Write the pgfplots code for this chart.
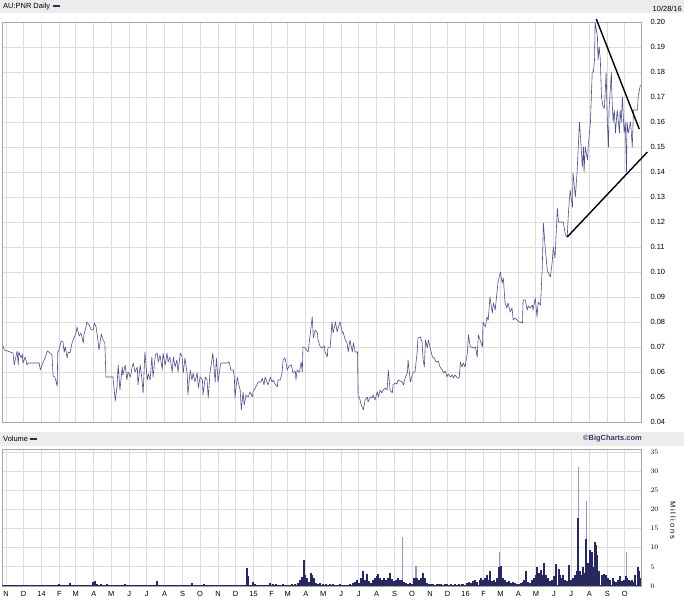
\documentclass[border=0pt]{standalone}
\usepackage{fontspec}
\setmainfont{Liberation Sans}
\usepackage{pgfplots}
\pgfplotsset{compat=1.18}
\definecolor{priceline}{RGB}{80,80,135}
\definecolor{voldark}{RGB}{40,40,95}
\definecolor{vollight}{RGB}{150,150,190}
\definecolor{gridc}{RGB}{220,220,220}
\definecolor{hdr}{RGB}{236,236,236}
\definecolor{framec}{RGB}{165,165,165}
\newcommand{\sm}{\fontsize{7.5}{8}\selectfont}
\pgfplotsset{
  chartbase/.style={
    scale only axis, width=639bp,
    xmin=-7, xmax=1093,
    xtick={0,30,61,92,120,151,181,212,242,273,304,334,365,395,426,457,485,516,546,577,607,638,669,699,730,760,791,822,851,882,912,943,973,1004,1035,1065},
    grid=major, major grid style={gridc, line width=0.8bp},
    major tick length=0pt,
    axis line style={framec, line width=0.8bp},
    yticklabel pos=right,
    tick label style={font=\sm},
    yticklabel style={xshift=6bp},
  }
}
\begin{document}
\begin{tikzpicture}
\path (0bp,0bp) rectangle (684bp,602bp);
\fill[hdr] (0bp,589bp) rectangle (684bp,602bp);
\fill[hdr] (0bp,156bp) rectangle (684bp,170bp);
\node[anchor=west,font=\sm,inner sep=0pt] at (3bp,595.5bp) {AU:PNR Daily};
\draw[voldark,line width=2bp] (53bp,595.5bp) -- (60bp,595.5bp);
\node[anchor=east,font=\sm,inner sep=0pt] at (682bp,593bp) {10/28/16};
\node[anchor=west,font=\sm,inner sep=0pt] at (3bp,163bp) {Volume};
\draw[voldark,line width=2bp] (30bp,163bp) -- (37bp,163bp);
\node[anchor=east,font=\sm\bfseries,text=voldark!80!gray,inner sep=0pt] at (642bp,163bp) {©BigCharts.com};
\node[rotate=-90,font=\sm\addfontfeature{LetterSpace=25},inner sep=0pt] at (673bp,82bp) {Millions};

\begin{axis}[chartbase, at={(2bp,180bp)}, anchor=south west, height=400bp,
  ymin=0.04, ymax=0.20, clip=false,
  xticklabels={},
  ytick={0.04,0.05,0.06,0.07,0.08,0.09,0.10,0.11,0.12,0.13,0.14,0.15,0.16,0.17,0.18,0.19,0.20},
  yticklabel style={/pgf/number format/.cd, fixed, fixed zerofill, precision=2, assume math mode=true},
]
\addplot[priceline, line width=0.6bp, line join=round] coordinates {
(-5,0.0704) (-3,0.0688) (7,0.068) (12,0.0676) (14,0.0628) (19,0.0684) (21,0.0628) (22,0.068) (26,0.0656) (28,0.0672)
(29,0.0636) (33,0.066) (36,0.0628) (38,0.0636) (57,0.0636) (59,0.0608) (64,0.064) (67,0.0656) (71,0.0684) (76,0.0676)
(79,0.0668) (81,0.0584) (84,0.058) (88,0.0544) (89,0.068) (91,0.0688) (95,0.0724) (98,0.072) (100,0.068) (102,0.07)
(105,0.0656) (107,0.068) (110,0.0676) (114,0.072) (117,0.0736) (121,0.076) (122,0.078) (126,0.0744) (129,0.0756) (133,0.0716)
(134,0.0748) (138,0.0784) (139,0.08) (143,0.0788) (146,0.0772) (150,0.0768) (152,0.0796) (155,0.078) (157,0.0748) (160,0.0688)
(164,0.0752) (167,0.0728) (170,0.0716) (172,0.058) (184,0.058) (188,0.0484) (191,0.0544) (193,0.0628) (196,0.0528) (200,0.062)
(201,0.0588) (205,0.0628) (208,0.0568) (210,0.06) (214,0.058) (217,0.062) (219,0.0636) (222,0.06) (226,0.062) (227,0.0548)
(231,0.0628) (234,0.0568) (236,0.0516) (239,0.068) (243,0.0568) (245,0.0592) (248,0.0568) (251,0.066) (253,0.058) (257,0.0668)
(260,0.0676) (262,0.064) (265,0.0668) (269,0.0608) (270,0.0676) (274,0.0628) (277,0.0676) (279,0.064) (282,0.066) (286,0.06)
(288,0.066) (291,0.062) (294,0.0648) (296,0.06) (300,0.0676) (303,0.066) (305,0.0596) (308,0.0656) (312,0.0588) (313,0.0508)
(317,0.0608) (320,0.0568) (322,0.0596) (325,0.056) (329,0.0596) (331,0.0536) (334,0.058) (338,0.0568) (339,0.0508) (343,0.058)
(346,0.0568) (348,0.0496) (351,0.0596) (355,0.066) (356,0.0676) (360,0.056) (362,0.0656) (363,0.0628) (365,0.056) (369,0.0628)
(370,0.0636) (380,0.0636) (384,0.064) (387,0.0608) (391,0.0608) (393,0.058) (394,0.0496) (398,0.058) (400,0.0556) (403,0.0528)
(405,0.0448) (408,0.052) (410,0.0468) (413,0.0508) (417,0.05) (420,0.052) (424,0.05) (425,0.052) (429,0.0536) (434,0.056)
(439,0.056) (441,0.0576) (444,0.0548) (446,0.058) (451,0.0548) (455,0.058) (458,0.056) (460,0.0568) (463,0.0552) (467,0.054)
(468,0.0568) (472,0.0568) (475,0.0596) (477,0.0648) (480,0.0656) (482,0.0636) (484,0.0608) (487,0.0624) (491,0.0628) (494,0.0596)
(498,0.0604) (499,0.0568) (501,0.0608) (505,0.06) (508,0.064) (510,0.06) (511,0.07) (515,0.0696) (517,0.0688) (520,0.068)
(523,0.074) (527,0.082) (529,0.0736) (532,0.0768) (536,0.0756) (537,0.0728) (541,0.07) (544,0.0696) (548,0.0704) (549,0.068)
(553,0.066) (554,0.0696) (558,0.07) (561,0.08) (563,0.0756) (567,0.08) (570,0.076) (572,0.078) (575,0.08) (579,0.0756)
(580,0.076) (584,0.0728) (587,0.0716) (589,0.068) (592,0.0728) (596,0.068) (598,0.0716) (601,0.068) (605,0.068) (606,0.05)
(608,0.05) (611,0.0472) (615,0.0448) (618,0.0488) (622,0.05) (623,0.048) (627,0.05) (630,0.0496) (632,0.0508) (635,0.0488)
(639,0.052) (641,0.05) (644,0.0528) (647,0.0516) (649,0.0528) (653,0.0536) (656,0.0528) (658,0.0608) (661,0.0528) (665,0.0516)
(666,0.0548) (670,0.0556) (673,0.0552) (675,0.0568) (678,0.0564) (682,0.056) (684,0.0548) (687,0.0576) (691,0.06) (692,0.0648)
(696,0.056) (699,0.0588) (701,0.06) (704,0.06) (708,0.0688) (709,0.0736) (713,0.074) (716,0.072) (718,0.0648) (720,0.062)
(722,0.0728) (725,0.0696) (727,0.0728) (730,0.0696) (734,0.066) (737,0.0656) (740,0.064) (744,0.0644) (747,0.062) (751,0.0608)
(753,0.0596) (756,0.0604) (759,0.058) (761,0.0592) (765,0.058) (768,0.0588) (770,0.0576) (773,0.0588) (777,0.0576) (780,0.0576)
(782,0.064) (785,0.062) (787,0.0636) (790,0.062) (794,0.0676) (796,0.0748) (799,0.07) (802,0.07) (804,0.0696) (808,0.07)
(811,0.066) (813,0.0748) (816,0.0728) (820,0.07) (821,0.08) (825,0.078) (828,0.082) (830,0.0808) (833,0.09) (837,0.0836)
(839,0.0876) (842,0.0848) (846,0.094) (847,0.096) (851,0.10) (854,0.0956) (856,0.0976) (859,0.0876) (862,0.0856) (864,0.0876)
(868,0.084) (871,0.0856) (873,0.0808) (876,0.0816) (880,0.0808) (882,0.08) (885,0.08) (889,0.0796) (890,0.0888) (894,0.0888)
(897,0.0848) (899,0.0864) (902,0.0856) (906,0.0868) (907,0.0848) (911,0.0896) (914,0.082) (916,0.088) (920,0.0868) (923,0.1016)
(925,0.1196) (928,0.11) (932,0.10) (933,0.10) (937,0.098) (940,0.1036) (942,0.11) (945,0.1056) (949,0.1256) (951,0.12)
(959,0.12) (963,0.1148) (966,0.114) (968,0.1236) (971,0.1328) (975,0.126) (976,0.1396) (980,0.13) (983,0.14) (985,0.15)
(987,0.16) (990,0.15) (992,0.142) (994,0.15) (995,0.14) (997,0.15) (1001,0.1448) (1002,0.15) (1006,0.16) (1009,0.18)
(1011,0.18) (1013,0.1848) (1014,0.20) (1018,0.194) (1019,0.1848) (1021,0.19) (1023,0.1848) (1025,0.17) (1028,0.1656) (1030,0.1656)
(1033,0.18) (1035,0.16) (1037,0.15) (1038,0.1648) (1042,0.18) (1043,0.17) (1045,0.16) (1047,0.1648) (1049,0.1556) (1052,0.1648)
(1054,0.16) (1056,0.1556) (1057,0.1648) (1059,0.16) (1061,0.17) (1063,0.16) (1064,0.1556) (1066,0.16) (1068,0.14) (1069,0.16)
(1071,0.1556) (1075,0.16) (1078,0.15) (1080,0.1648) (1087,0.1648) (1088,0.17) (1092,0.1748)
};
\addplot[black, line width=1.4bp] coordinates {(1016,0.2012) (1090,0.1572)};
\addplot[black, line width=1.4bp] coordinates {(966,0.114) (1104,0.148)};
\end{axis}

\begin{axis}[chartbase, at={(2bp,16bp)}, anchor=south west, height=137bp,
  ymin=0, ymax=35.8,
  ytick={0,5,10,15,20,25,30,35},
  xticklabels={N,D,14,F,M,A,M,J,J,A,S,O,N,D,15,F,M,A,M,J,J,A,S,O,N,D,16,F,M,A,M,J,J,A,S,O},
  xticklabel style={yshift=-2bp},
]
\addplot[ycomb, vollight, line width=1.4bp] coordinates {
(682,12.8) (706,5.2) (849,8.9) (985,31.1) (999,22.2) (1068,8.9)
};
\addplot[ycomb, voldark, line width=2bp] coordinates {
(3,0.2) (31,0.3) (59,0.1) (91,0.4) (110,0.8) (150,1.0) (153,1.3) (157,0.4) (164,0.6) (174,0.6)
(205,0.4) (260,1.3) (320,0.9) (325,0.3) (341,0.4) (382,0.3) (403,0.2) (415,4.7) (417,2.5) (425,1.0)
(429,0.6) (441,0.2) (455,0.8) (460,0.5) (465,0.6) (477,0.5) (486,0.3) (492,0.4) (498,0.6) (503,0.8)
(506,1.5) (510,2.3) (513,6.8) (515,3.0) (518,2.0) (522,1.0) (525,3.4) (527,2.8) (530,2.0) (534,0.8)
(537,0.6) (541,0.8) (546,0.5) (551,0.4) (558,0.6) (563,0.5) (568,0.3) (575,0.4) (584,0.3) (592,0.5)
(598,0.8) (601,1.0) (604,1.5) (608,0.8) (611,2.0) (615,3.9) (618,1.5) (622,3.1) (625,1.2) (629,0.8)
(632,1.5) (635,2.0) (639,2.5) (641,3.1) (644,2.0) (647,1.5) (651,2.2) (654,1.5) (658,2.0) (661,3.4)
(665,1.8) (668,1.2) (672,1.5) (675,2.0) (678,1.5) (682,1.5) (685,1.0) (689,0.8) (692,0.6) (696,0.8)
(699,0.5) (703,2.0) (706,2.0) (708,2.0) (711,1.5) (715,2.0) (718,3.4) (722,2.0) (725,0.8) (728,0.5)
(732,0.4) (735,0.6) (739,0.3) (742,0.5) (746,0.4) (749,0.6) (753,0.3) (756,0.5) (759,0.4) (763,0.3)
(766,0.5) (770,0.3) (773,0.4) (777,0.3) (780,0.5) (784,0.4) (787,0.6) (790,0.3) (794,0.8) (797,1.0)
(801,0.8) (804,1.2) (808,1.5) (811,1.0) (815,1.5) (818,2.0) (821,1.5) (825,2.2) (828,2.9) (832,1.5)
(833,3.9) (837,1.2) (840,1.5) (844,1.0) (845,2.0) (849,5.0) (852,5.2) (856,2.0) (859,1.5) (863,1.0)
(866,1.2) (870,0.8) (873,1.0) (876,0.8) (880,0.5) (883,0.6) (887,0.8) (890,1.0) (892,1.5) (895,3.9)
(899,1.0) (902,0.8) (906,1.5) (909,2.0) (913,3.0) (914,5.0) (918,3.5) (921,4.2) (925,3.0) (926,6.0)
(930,3.0) (933,2.0) (937,1.2) (940,1.5) (944,2.5) (947,5.7) (951,4.5) (954,3.0) (957,2.0) (959,3.0)
(963,1.5) (966,1.2) (969,5.5) (973,1.5) (976,2.0) (980,3.0) (983,4.0) (985,17.7) (988,4.0) (992,3.0)
(994,5.0) (997,3.5) (999,12.3) (1002,6.0) (1006,9.4) (1007,5.0) (1009,8.9) (1012,5.0) (1014,11.5) (1016,10.7)
(1018,8.0) (1021,4.0) (1025,3.0) (1028,2.0) (1030,3.1) (1033,2.8) (1037,2.0) (1040,1.5) (1044,2.0) (1047,1.2)
(1050,1.0) (1054,1.5) (1057,2.5) (1061,1.2) (1064,1.5) (1068,2.5) (1069,2.0) (1073,1.5) (1076,1.2) (1078,1.5)
(1081,1.0) (1083,3.0) (1087,1.5) (1088,5.0) (1090,4.0) (1092,2.0)
};
\draw[voldark, line width=1.2bp] (axis cs:-7,0) -- (axis cs:1093,0);
\end{axis}
\end{tikzpicture}
\end{document}
